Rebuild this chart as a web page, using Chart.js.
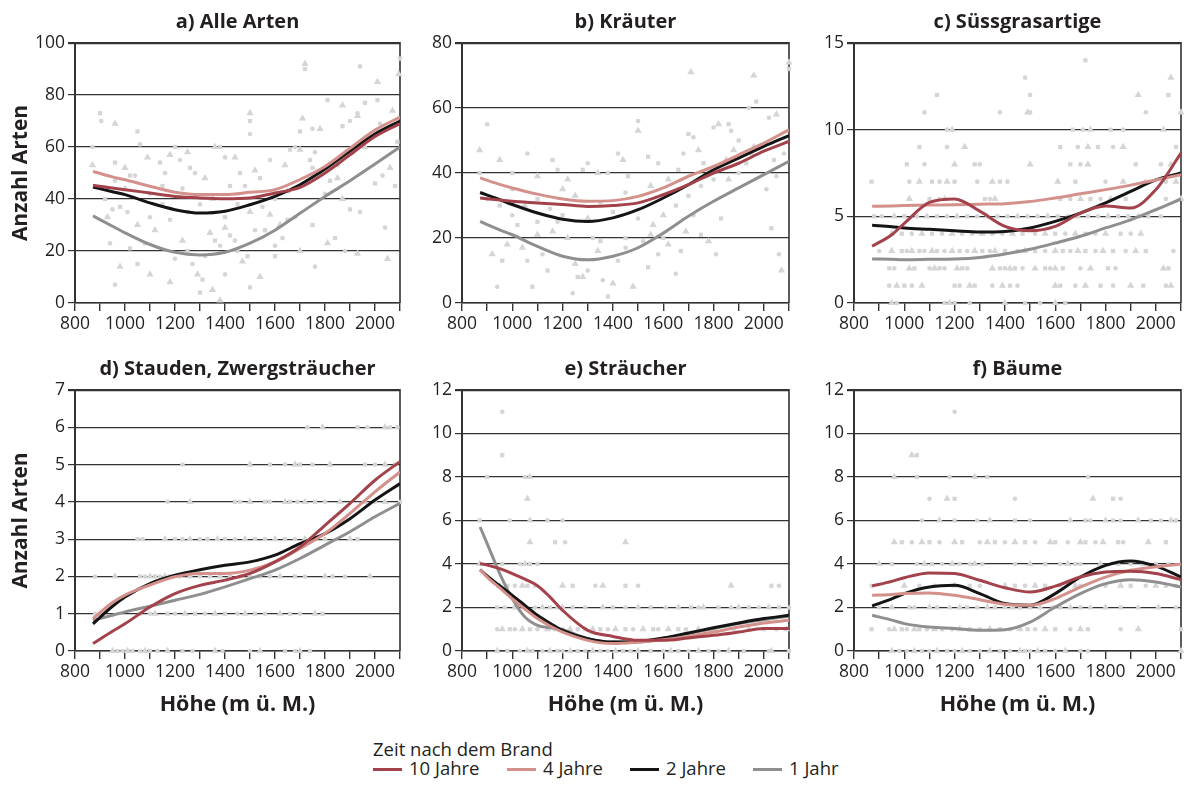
<!DOCTYPE html>
<html><head><meta charset="utf-8">
<script src="https://cdn.jsdelivr.net/npm/chart.js@4.4.1/dist/chart.umd.min.js"></script>
<style>
body{margin:0;width:1192px;height:787px;background:#fff;position:relative;overflow:hidden;font-family:"Open Sans",sans-serif;color:#231f20}
canvas{position:absolute}
.lg{position:absolute;font-size:18.5px;line-height:22px;white-space:nowrap}
.sw{position:absolute;height:3px;width:29px}
</style></head><body>
<canvas id="ca" width="410" height="340" style="left:0;top:0"></canvas>
<canvas id="cb" width="400" height="340" style="left:400px;top:0"></canvas>
<canvas id="cc" width="402" height="340" style="left:790px;top:0"></canvas>
<canvas id="cd" width="410" height="390" style="left:0;top:340px"></canvas>
<canvas id="ce" width="400" height="390" style="left:400px;top:340px"></canvas>
<canvas id="cf" width="402" height="390" style="left:790px;top:340px"></canvas>
<div id="legend"></div>
<script>
// ---------- data ----------
const seriesNames = ['10 Jahre','4 Jahre','2 Jahre','1 Jahr'];
const elev = [872,950,1000,1100,1200,1300,1400,1500,1600,1700,1800,1900,2000,2100];
const elevE = [872,900,950,1000,1050,1100,1150,1200,1300,1400,1500,1600,1700,1800,1900,2000,2100];

// a) Alle Arten
const a10 = [45.3,44.2,43.6,42.3,41,40.4,40.1,40.4,42.3,44.5,50,57,64,69];
const a4  = [50.6,48.5,47.4,44.9,42.6,41.7,41.7,42.6,43.6,47.5,52.5,59.5,66.5,71.5];
const a2  = [44.6,42.8,41.7,38.5,35.9,34.6,35.3,37.8,41,45.5,51.5,58.5,65,70];
const a1  = [33.5,29.5,27,22.5,19.5,18.5,19.5,23,28,34.5,41,47,53.5,60];
// b) Kräuter
const b10 = [32.3,31.7,31.3,30.8,30.3,29.7,30,30.8,33.3,36.4,40,43,46.7,49.7];
const b4  = [38.5,36.5,35.4,33.5,32,31.3,31.5,32.8,35.4,39,42,45.6,49.2,53.3];
const b2  = [34,31.8,30.3,27.7,25.8,25.1,26.2,28.7,32.3,36.4,41,44.6,48.2,51.5];
const b1  = [25.1,22.5,21,17.4,14.4,13.3,14.4,17,21.5,26.7,31.3,35.4,39.5,43.6];
// c) Süssgrasartige
const c10 = [3.27,3.94,4.6,5.8,6.0,5.3,4.42,4.17,4.42,5.19,5.6,5.48,6.54,8.65];
const c4  = [5.58,5.6,5.62,5.65,5.67,5.7,5.73,5.85,6.06,6.3,6.54,6.8,7.1,7.4];
const c2  = [4.48,4.4,4.33,4.25,4.17,4.1,4.13,4.33,4.71,5.19,5.77,6.44,7.1,7.5];
const c1  = [2.54,2.52,2.5,2.52,2.54,2.63,2.83,3.1,3.46,3.85,4.33,4.8,5.38,6.0];
// d) Stauden, Zwergsträucher
const d10 = [0.2,0.53,0.73,1.18,1.54,1.76,1.9,2.08,2.39,2.79,3.37,3.96,4.58,5.08];
const d4  = [0.87,1.3,1.5,1.77,1.99,2.08,2.08,2.17,2.39,2.75,3.15,3.69,4.27,4.8];
const d2  = [0.73,1.2,1.45,1.81,2.03,2.18,2.3,2.39,2.57,2.88,3.15,3.55,4.05,4.49];
const d1  = [0.82,0.96,1.05,1.2,1.36,1.52,1.72,1.94,2.17,2.48,2.84,3.2,3.6,3.96];
// e) Sträucher (elevE)
const e10 = [4.02,3.95,3.79,3.56,3.3,3.0,2.48,1.87,0.95,0.67,0.49,0.49,0.6,0.72,0.87,1.03,1.03];
const e4  = [3.74,3.4,2.9,2.4,1.93,1.49,1.15,0.87,0.49,0.34,0.41,0.52,0.67,0.87,1.1,1.29,1.41];
const e2  = [3.74,3.45,3.0,2.56,2.1,1.64,1.27,0.95,0.57,0.41,0.44,0.6,0.83,1.07,1.29,1.49,1.64];
const e1  = [5.7,4.94,3.56,2.4,1.56,1.18,1.07,0.98,0.57,0.41,0.41,0.57,0.8,1.03,1.26,1.44,1.6];
// f) Bäume
const f10 = [2.99,3.2,3.37,3.59,3.56,3.25,2.91,2.71,2.98,3.4,3.63,3.67,3.56,3.28];
const f4  = [2.56,2.6,2.64,2.67,2.56,2.36,2.15,2.1,2.41,2.94,3.4,3.71,3.87,3.99];
const f2  = [2.07,2.4,2.64,2.94,3.02,2.64,2.18,2.1,2.64,3.4,3.94,4.14,3.9,3.4];
const f1  = [1.64,1.42,1.26,1.1,1.03,0.95,0.98,1.33,2.02,2.64,3.1,3.28,3.17,2.94];

// scatter observations (a, b as [Höhe, Anzahl])
const ptsA = [[1720,92],[1720,90],[1940,91],[2010,85],[2010,78],[2100,94],[2095,88],[900,73],[905,70],[960,69],[1050,66],[1060,61],[1500,73],[1500,70],[1500,65],
[1870,76],[1810,78],[1930,73],[1930,72],[1960,77],[1900,70],[1710,71],[1700,66],[1750,67],[1780,67],[1870,68],[870,60],[870,53],[960,54],[960,47],[1000,52],
[1020,49],[1040,49],[1090,56],[1140,54],[1160,50],[1180,57],[1200,60],[1220,55],[1250,58],[1260,52],[1280,50],[1360,60],[1380,60],[1400,56],[1440,56],[1460,50],
[1480,45],[1520,51],[1540,48],[1580,55],[1640,53],[1660,59],[1680,60],[1700,59],[1740,55],[1760,58],[1790,50],[1820,47],[1850,53],[1870,40],[1900,36],[1940,35],
[1960,60],[2000,46],[2030,49],[2060,52],[2080,45],[2040,29],[2050,17],[2000,65],[2020,69],[2070,74],[2090,62],[950,36],[930,33],[980,37],[1010,35],[1050,30],
[1080,23],[1100,33],[1120,28],[1150,38],[1180,32],[1230,24],[1250,20],[1270,15],[1290,11],[1310,9],[1320,18],[1340,27],[1360,24],[1380,22],[1400,29],[1420,26],
[1440,24],[1470,16],[1490,18],[1500,6],[1540,10],[1560,28],[1600,22],[1620,30],[1650,32],[1680,33],[1700,20],[1750,30],[1760,14],[1810,23],[1840,25],[1880,20],
[1930,19],[1600,18],[1400,11],[1350,5],[1300,4],[1200,17],[1180,8],[1050,15],[960,7],[980,14],[1020,21],[940,23],[1100,11],[1250,35],[1300,38],[1350,40],
[1450,38],[1550,37],[1650,43],[1700,45],[1800,42],[1850,48],[1750,52],[1600,40],[1500,35],[1400,33],[1450,20],[1380,1],[1150,45],[1100,42],[1000,44],[920,40],
[1230,44],[1320,48],[1420,45],[1520,28],[1580,34],[1630,25]];
const ptsB = [[870,47],[870,40],[900,55],[950,44],[1000,40],[1060,46],[1100,39],[1160,44],[1180,41],[1220,38],[1280,41],[1300,43],[1340,40],[1380,40],[1420,46],
[1440,44],[1460,39],[1500,56],[1500,53],[1540,45],[1580,43],[1620,38],[1660,41],[1680,46],[1710,71],[1700,52],[1720,51],[1740,47],[1760,43],[1800,54],[1820,55],
[1860,55],[1870,53],[1880,47],[1900,50],[1940,60],[1960,70],[1970,62],[2020,57],[2050,58],[2040,44],[2080,46],[2100,74],[2100,72],[2060,15],[2070,10],[2030,23],
[2010,35],[1960,48],[1930,43],[1900,40],[1860,38],[1830,26],[1810,15],[1780,19],[1750,21],[1720,27],[1690,22],[1670,16],[1650,9],[1620,18],[1600,20],[1580,15],
[1560,24],[1540,11],[1520,19],[1480,5],[1450,20],[1420,13],[1400,6],[1380,2],[1360,7],[1340,16],[1320,20],[1300,10],[1280,8],[1260,8],[1240,3],[1220,20],
[1200,27],[1180,25],[1160,22],[1140,10],[1120,15],[1100,21],[1080,5],[1060,13],[1040,17],[1020,24],[1000,27],[980,18],[960,13],[940,5],[920,15],[950,30],
[1000,35],[1050,30],[1100,32],[1150,29],[1250,33],[1350,31],[1450,34],[1550,36],[1650,30],[1750,36],[1850,44],[1950,46],[2050,39],[1300,26],[1400,28],
[1500,26],[1600,27],[1700,33],[1800,38],[1200,35],[1100,25],[900,32],[1250,12],[1350,19],[1450,17],[1550,21]];
// c–f: Höhe values listed per species count (index = Anzahl)
const ptsC = [
 [950,970,1160,1180,1200,1260,1400,1480,1540,1600,1640],
 [940,970,1000,1030,1070,1200,1220,1260,1280,1350,1390,1420,1450,1600,1620,1680,1720,1780,1830,1900,1950,2040,2060],
 [940,960,1020,1040,1100,1120,1140,1160,1210,1230,1250,1350,1380,1400,1420,1440,1470,1520,1560,1580,1600,1630,1700,1740,1810,1840,2030,2050],
 [900,950,990,1010,1030,1060,1080,1110,1130,1160,1190,1220,1250,1280,1310,1340,1360,1400,1450,1480,1520,1560,1600,1630,1660,1690,1720,1760,1790,1830,1880,1920,1960,2070],
 [950,990,1030,1070,1110,1150,1190,1230,1270,1310,1350,1390,1430,1470,1520,1560,1600,1640,1680,1720,1760,1800,1860,1900,1940],
 [880,910,960,1000,1050,1090,1130,1170,1210,1250,1290,1330,1370,1410,1450,1490,1530,1570,1610,1650,1690,1730,1770,1810,1850,1890,1930,1970,2020],
 [1020,1100,1140,1160,1320,1340,1360,1620,1660,1700,1740,1780,1820,1880,2040,2100],
 [870,1020,1060,1110,1140,1170,1200,1290,1350,1380,1410,1610,1680,1800,1870,1960,2040,2080],
 [1010,1080,1200,1280,1300,1500,1660,1700,1730,1920,2020,2060],
 [1060,1170,1240,1620,1690,1730,1770,1830,1870,2080],
 [1170,1190,1670,1710,1740,1820,1870,2030],
 [1080,1380,1490,1500,1960,2100],
 [1130,1500,1930,2050],
 [1480,2060],
 [1720]];
const ptsD = [
 [950,970,990,1010,1030,1060,1080,1100,1130,1170,1230,1270,1360,1390,1500,1540,1640,1680,1700,1740],
 [880,900,1060,1100,1120,1170,1200,1240,1280,1320,1360,1400,1450,1480,1520,1560,1620,1660,1700,1760,1790],
 [880,960,1060,1080,1100,1120,1140,1160,1180,1220,1260,1300,1340,1380,1420,1460,1500,1540,1580,1620,1680,1720,1800,1830,1880,1980],
 [1050,1070,1160,1200,1230,1260,1300,1330,1370,1400,1440,1480,1520,1560,1600,1640,1680,1720,1760,1800,1900,1930],
 [1170,1260,1440,1460,1500,1560,1580,1640,1660,1690,1720,1760,1800,1860,1960,2000,2040,2100],
 [1230,1500,1580,1640,1680,1700,1750,1820,1960,2000,2040,2080],
 [1730,1790,1930,1970,2040,2060,2090]];
const ptsE = [
 [940,980,1030,1060,1080,1120,1150,1180,1200,1230,1260,1290,1320,1350,1380,1410,1440,1470,1500,1550,1600,1630,1660,1700,1740,1780,1820,1860,1920,2020,2030,2100],
 [940,960,990,1010,1040,1070,1100,1140,1170,1200,1230,1260,1290,1320,1350,1380,1410,1450,1480,1520,1560,1580,1620,1660,1690,1740,1800,1880,1940,2000,2050,2090],
 [940,970,1010,1050,1090,1120,1150,1180,1200,1240,1290,1360,1400,1450,1500,1550,1610,1660,1710,1740,1760,1820,1870,1900,1940,1980,2020,2060,2100],
 [950,980,1010,1040,1060,1090,1200,1240,1330,1360,1450,1500,1870,2030,2060],
 [870,960,1030,1050,1070,1100],
 [1070,1170,1210,1450],
 [870,990,1070,1140,1200],
 [1060],
 [900,1050,1070],
 [960],
 [],
 [960],
 [],
 [960]];
const ptsF = [
 [950,980,1010,1040,1070,1100,1130,1170,1200,1230,1260,1300,1340,1380,1420,1460,1480,1500,1530,1560,1600,1640,1700,1730,2100],
 [870,940,960,990,1010,1040,1060,1090,1120,1150,1190,1220,1260,1300,1340,1380,1420,1460,1490,1520,1560,1600,1660,1700,1730,1860,1930,2100],
 [900,950,1020,1040,1100,1130,1180,1220,1250,1290,1330,1360,1400,1430,1460,1500,1540,1590,1620,1660,1700,1740,1800,1860,1930,2010,2080],
 [870,1000,1060,1120,1200,1260,1300,1400,1440,1480,1520,1560,1620,1680,1700,1800,1860,1900,1960,2000,2040,2080],
 [900,950,1050,1080,1110,1150,1190,1220,1260,1280,1310,1440,1500,1560,1620,1650,1680,1700,1780,1850,1900,1950,2000,2050],
 [960,990,1030,1070,1100,1140,1200,1230,1300,1330,1360,1400,1440,1480,1520,1580,1600,1650,1700,1720,1760,1790,1850,1870,1970,2040],
 [1070,1140,1200,1290,1340,1440,1500,1660,1720,1740,1800,1830,1860,1930,1980,2020,2060,2080],
 [1100,1170,1200,1440,1750,1830,1860],
 [960,1050,1180,1280,1330,1730],
 [1030,1050],
 [],
 [1200]];

// ---------- drawing ----------
const FONT = '"Open Sans", sans-serif';
const INK = '#231f20';
const AX = '#333333';
const colors = {'10 Jahre':'#a3424a','4 Jahre':'#d4918b','2 Jahre':'#141414','1 Jahr':'#8f8f8f'};

function levelsToPts(levels){
  const out = [];
  levels.forEach((xs, y) => xs.forEach(x => out.push([x, y])));
  return out;
}

const deco = {
  id: 'deco',
  beforeDatasetsDraw(chart, args, opts){
    const {ctx, chartArea: a} = chart;
    ctx.save();
    ctx.strokeStyle = AX; ctx.lineWidth = 1.6;
    ctx.beginPath(); ctx.moveTo(a.right, a.top - 1); ctx.lineTo(a.right, a.bottom); ctx.stroke();
    ctx.restore();
  },
  afterDraw(chart, args, opts){
    const {ctx, chartArea: a} = chart;
    ctx.save();
    ctx.font = 'bold 20px ' + FONT;
    ctx.fillStyle = INK; ctx.textAlign = 'center'; ctx.textBaseline = 'alphabetic';
    ctx.fillText(opts.title, (a.left + a.right) / 2, a.top - 15);
    ctx.restore();
  }
};

function makePanel(id, p){
  const lines = [['1 Jahr', p.v[3], 4], ['2 Jahre', p.v[2], 3], ['4 Jahre', p.v[1], 2], ['10 Jahre', p.v[0], 1]];
  const styles = ['triangle', 'rect', 'circle'];
  const radii = [4.2, 3.0, 2.3];
  const datasets = [{
    type: 'scatter', order: 10,
    data: p.pts.map(q => ({x: q[0], y: q[1]})),
    backgroundColor: '#d5d5d5', borderWidth: 0,
    pointStyle: c => styles[c.dataIndex % 3],
    pointRadius: c => radii[c.dataIndex % 3],
    clip: false
  }];
  lines.forEach(([name, vals, ord]) => datasets.push({
    type: 'line', label: name, order: ord,
    data: p.xs.map((x, i) => ({x, y: vals[i]})),
    borderColor: colors[name], borderWidth: 3,
    pointRadius: 0, cubicInterpolationMode: 'monotone', fill: false
  }));
  new Chart(document.getElementById(id), {
    type: 'scatter',
    data: {datasets},
    plugins: [deco],
    options: {
      responsive: false, animation: false, devicePixelRatio: 1,
      layout: {padding: {top: p.padTop, right: p.padRight, left: 0, bottom: 0}},
      plugins: {legend: {display: false}, tooltip: {enabled: false}, deco: {title: p.title}},
      scales: {
        x: {
          type: 'linear', min: 800, max: 2100,
          ticks: {stepSize: 100, autoSkip: false, maxRotation: 0, padding: 3, color: INK,
                  font: {family: FONT, size: 17.5}, callback: v => (v % 200 === 0 ? String(v) : '')},
          grid: {drawOnChartArea: false, drawTicks: true, tickLength: 8, color: AX, lineWidth: 1.4},
          border: {color: AX, width: 1.6},
          title: p.xTitle ? {display: true, text: 'Höhe (m ü. M.)', color: INK,
                  font: {family: FONT, size: 21.5, weight: 'bold'}, padding: {top: 0, bottom: 12}} : {display: false},
          afterFit: s => { s.height = p.xH; }
        },
        y: {
          min: 0, max: p.ymax,
          ticks: {stepSize: p.ystep, padding: 3, color: INK, font: {family: FONT, size: 17.5}},
          grid: {color: AX, tickLength: 7, lineWidth: c => (c.tick && c.tick.value === p.ymax ? 2.2 : 1.2)},
          border: {color: AX, width: 2},
          title: p.yTitle ? {display: true, text: 'Anzahl Arten', color: INK,
                  font: {family: FONT, size: 21, weight: 'bold'}, padding: {top: 8, bottom: 0}} : {display: false},
          afterFit: s => { s.width = p.yW; }
        }
      }
    }
  });
}

const row1 = {padTop: 43, xH: 37, xTitle: false};
const row2 = {padTop: 50, xH: 79, xTitle: true};
makePanel('ca', Object.assign({title: 'a) Alle Arten', xs: elev, v: [a10, a4, a2, a1], pts: ptsA, ymax: 100, ystep: 20, yW: 75, padRight: 10, yTitle: true}, row1));
makePanel('cb', Object.assign({title: 'b) Kräuter', xs: elev, v: [b10, b4, b2, b1], pts: ptsB, ymax: 80, ystep: 20, yW: 62, padRight: 11, yTitle: false}, row1));
makePanel('cc', Object.assign({title: 'c) Süssgrasartige', xs: elev, v: [c10, c4, c2, c1], pts: levelsToPts(ptsC), ymax: 15, ystep: 5, yW: 64, padRight: 11, yTitle: false}, row1));
makePanel('cd', Object.assign({title: 'd) Stauden, Zwergsträucher', xs: elev, v: [d10, d4, d2, d1], pts: levelsToPts(ptsD), ymax: 7, ystep: 1, yW: 75, padRight: 10, yTitle: true}, row2));
makePanel('ce', Object.assign({title: 'e) Sträucher', xs: elevE, v: [e10, e4, e2, e1], pts: levelsToPts(ptsE), ymax: 12, ystep: 2, yW: 62, padRight: 11, yTitle: false}, row2));
makePanel('cf', Object.assign({title: 'f) Bäume', xs: elev, v: [f10, f4, f2, f1], pts: levelsToPts(ptsF), ymax: 12, ystep: 2, yW: 64, padRight: 11, yTitle: false}, row2));

// legend (HTML text)
const lg = document.getElementById('legend');
const head = document.createElement('div');
head.className = 'lg'; head.style.left = '373px'; head.style.top = '738px';
head.textContent = 'Zeit nach dem Brand';
lg.appendChild(head);
const lgX = [373, 507, 630, 753];
seriesNames.forEach((n, i) => {
  const sw = document.createElement('div');
  sw.className = 'sw'; sw.style.left = lgX[i] + 'px'; sw.style.top = '768px'; sw.style.background = colors[n];
  lg.appendChild(sw);
  const t = document.createElement('div');
  t.className = 'lg'; t.style.left = (lgX[i] + 36) + 'px'; t.style.top = '757px';
  t.textContent = n;
  lg.appendChild(t);
});
</script>
</body></html>
